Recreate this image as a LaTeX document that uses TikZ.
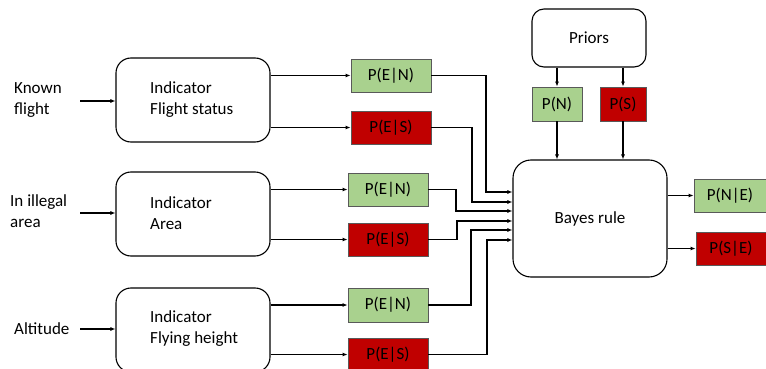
\documentclass[tikz,border=0pt]{standalone}
\usepackage{fontspec}
\setmainfont{Carlito}
\usetikzlibrary{arrows.meta}
\definecolor{pgreen}{HTML}{A9D18E}
\definecolor{pred}{HTML}{C00000}
\begin{document}
\begin{tikzpicture}[x=1pt,y=-1pt,
  every node/.style={font=\fontsize{17}{21}\selectfont, inner sep=0pt},
  indbox/.style={draw, line width=1.1pt, rounded corners=15pt, minimum width=154pt, minimum height=84pt},
  gbox/.style={draw=black!65, line width=0.8pt, fill=pgreen, minimum width=80pt, minimum height=33pt},
  rbox/.style={draw=black!65, line width=0.8pt, fill=pred, minimum width=80pt, minimum height=33pt},
  lbl/.style={anchor=west, align=left},
  arr/.style={line width=1.1pt, -{Latex[length=5pt,width=4pt]}},
  ln/.style={line width=1.1pt}]
\useasboundingbox (0,0) rectangle (766,369);
% left labels
\node[lbl] (kf) at (14,100) {Known\\flight};
\node[lbl] (ia) at (10,211) {In illegal\\area};
\node[lbl] (al) at (14,329) {Altitude};
% indicator boxes
\node[indbox] (ind1) at (193,100) {};
\node[indbox] (ind2) at (193,214) {};
\node[indbox] (ind3) at (193,330) {};
\node[lbl] (t1) at (150,100) {Indicator\\Flight status};
\node[lbl] (t2) at (150,213) {Indicator\\Area};
\node[lbl] (t3) at (150,329) {Indicator\\Flying height};
\coordinate (k1) at (80,101);
\coordinate (k2) at (80,213);
\coordinate (k3) at (80,329);
\draw[arr] (k1) -- (ind1.west |- k1);
\draw[arr] (k2) -- (ind2.west |- k2);
\draw[arr] (k3) -- (ind3.west |- k3);
% likelihood boxes
\node[gbox] (pen1) at (391,75.5) {P(E|N)};
\node[rbox] (pes1) at (391,127.5) {P(E|S)};
\node[gbox] (pen2) at (388,189.5) {P(E|N)};
\node[rbox] (pes2) at (388,239.5) {P(E|S)};
\node[gbox, minimum height=34pt] (pen3) at (388,305) {P(E|N)};
\node[rbox] (pes3) at (388,354.5) {P(E|S)};
\draw[arr] (ind1.east |- pen1.west) -- (pen1.west);
\draw[arr] (ind1.east |- pes1.west) -- (pes1.west);
\draw[arr] (ind2.east |- pen2.west) -- (pen2.west);
\draw[arr] (ind2.east |- pes2.west) -- (pes2.west);
\draw[arr] (ind3.east |- pen3.west) -- (pen3.west);
\draw[arr] (ind3.east |- pes3.west) -- (pes3.west);
% priors
\node[draw, line width=1.1pt, rounded corners=12pt, minimum width=114pt, minimum height=58pt] (pri) at (589,38) {Priors};
\node[gbox, minimum width=50pt, minimum height=34pt] (pn) at (557,104) {P(N)};
\node[rbox, minimum width=46pt, minimum height=34pt] (ps) at (623,104) {P(S)};
\draw[arr] (pri.south -| pn) -- (pn.north);
\draw[arr] (pri.south -| ps) -- (ps.north);
% Bayes
\node[draw, line width=1.1pt, rounded corners=18pt, minimum width=154pt, minimum height=117pt] (bay) at (590,218.5) {Bayes rule};
\draw[arr] (pn.south) -- (bay.north -| pn);
\draw[arr] (ps.south) -- (bay.north -| ps);
\draw[arr] (pen1.east) -- (486,75.5) -- (486,192) -- (bay.west |- 0,192);
\draw[arr] (pes1.east) -- (472,127.5) -- (472,202) -- (bay.west |- 0,202);
\draw[arr] (pen2.east) -- (456,189.5) -- (456,211) -- (bay.west |- 0,211);
\draw[arr] (pes2.east) -- (457,239.5) -- (457,221) -- (bay.west |- 0,221);
\draw[arr] (pen3.east) -- (471,305) -- (471,230) -- (bay.west |- 0,230);
\draw[arr] (pes3.east) -- (487,354.5) -- (487,240) -- (bay.west |- 0,240);
% outputs
\node[gbox, minimum width=72pt] (pne) at (730,195.5) {P(N|E)};
\node[rbox, minimum width=70pt] (pse) at (731,248.5) {P(S|E)};
\draw[arr] (bay.east |- pne.west) -- (pne.west);
\draw[arr] (bay.east |- pse.west) -- (pse.west);
\end{tikzpicture}
\end{document}
